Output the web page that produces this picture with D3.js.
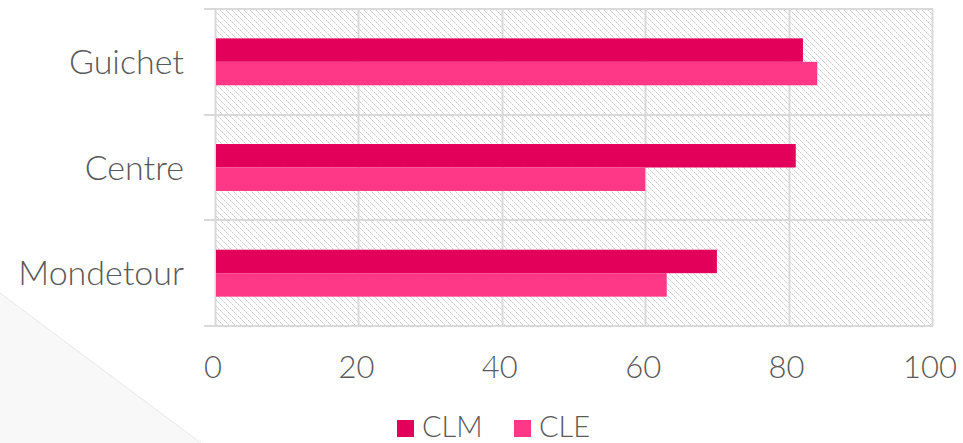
<!DOCTYPE html>
<html><head><meta charset="utf-8">
<script src="https://cdn.jsdelivr.net/npm/d3@7"></script>
<style>body{margin:0;background:#fff;}svg{display:block;}</style>
</head><body>
<svg id="c" width="963" height="443"></svg>
<script>
const categories = ["Guichet", "Centre", "Mondetour"];
const seriesNames = ["CLM", "CLE"];
const clmValues = [82, 81, 70];
const cleValues = [84, 60, 63];
const xTicks = [0, 20, 40, 60, 80, 100];
const colors = ["#e3005b", "#ff3787"];

const svg = d3.select("#c");
const m = {left: 215, right: 932, top: 9, bottom: 326};
const FONT = "Lato, 'Open Sans', sans-serif";
const textColor = "#595959";

// background decoration
svg.append("path").attr("d", `M0,293 L201,443 L0,443 Z`).attr("fill", "#f8f8f8");
svg.append("line").attr("x1", 0).attr("y1", 293).attr("x2", 201).attr("y2", 443)
  .attr("stroke", "#e8e8e8").attr("stroke-width", 1);

// hatch pattern
const defs = svg.append("defs");
const pat = defs.append("pattern").attr("id", "hatch").attr("patternUnits", "userSpaceOnUse")
  .attr("width", 6).attr("height", 6);
pat.append("rect").attr("width", 6).attr("height", 6).attr("fill", "#fff");
for (let i = 0; i < 6; i++) {
  pat.append("rect").attr("x", i).attr("y", i).attr("width", 1).attr("height", 1).attr("fill", i % 2 ? "#e0e0e0" : "#cdcdcd");
}

const x = d3.scaleLinear().domain([0, 100]).range([m.left, m.right]);
const y = d3.scaleBand().domain(categories).range([m.top, m.bottom]);
const inner = d3.scaleBand().domain(seriesNames).range([0, y.bandwidth()]).paddingInner(0).paddingOuter(1.25);

svg.append("rect").attr("x", m.left).attr("y", m.top).attr("width", m.right - m.left).attr("height", m.bottom - m.top)
  .attr("fill", "url(#hatch)");

const grid = "#d9d9d9";
svg.append("g").selectAll("line").data(xTicks).join("line")
  .attr("x1", d => Math.round(x(d)) + 0.5).attr("x2", d => Math.round(x(d)) + 0.5)
  .attr("y1", m.top).attr("y2", m.bottom).attr("stroke", grid).attr("stroke-width", 2);
const bounds = categories.map(c => y(c)).concat([m.bottom]);
svg.append("g").selectAll("line").data(bounds).join("line")
  .attr("x1", m.left - 11).attr("x2", m.right + 1)
  .attr("y1", d => Math.round(d)).attr("y2", d => Math.round(d))
  .attr("stroke", grid).attr("stroke-width", 2);

// bars
const rows = categories.map((c, i) => ({cat: c, vals: [clmValues[i], cleValues[i]]}));
const g = svg.append("g");
rows.forEach(r => {
  r.vals.forEach((v, j) => {
    g.append("rect").attr("x", x(0) + 1).attr("y", y(r.cat) + inner(seriesNames[j]))
      .attr("width", x(v) - x(0) - 1).attr("height", inner.bandwidth()).attr("fill", colors[j]);
  });
});

// category labels
svg.append("g").selectAll("text").data(categories).join("text")
  .attr("x", 184).attr("y", d => y(d) + y.bandwidth() / 2 + 12)
  .attr("text-anchor", "end")
  .attr("font-family", FONT).attr("font-weight", 300).attr("font-size", 34).attr("fill", textColor).text(d => d);

// x tick labels
svg.append("g").selectAll("text").data(xTicks).join("text")
  .attr("x", d => x(d) - 2).attr("y", 378)
  .attr("text-anchor", "middle")
  .attr("font-family", FONT).attr("font-weight", 300).attr("font-size", 31).attr("fill", textColor).text(d => d);

// legend
const legX = [397, 514];
seriesNames.forEach((s, i) => {
  svg.append("rect").attr("x", legX[i]).attr("y", 420).attr("width", 17).attr("height", 17).attr("fill", colors[i]);
  svg.append("text").attr("x", legX[i] + 25).attr("y", 437)
    .attr("font-family", FONT).attr("font-weight", 300).attr("font-size", 29).attr("fill", textColor).text(s);
});
</script>
</body></html>
